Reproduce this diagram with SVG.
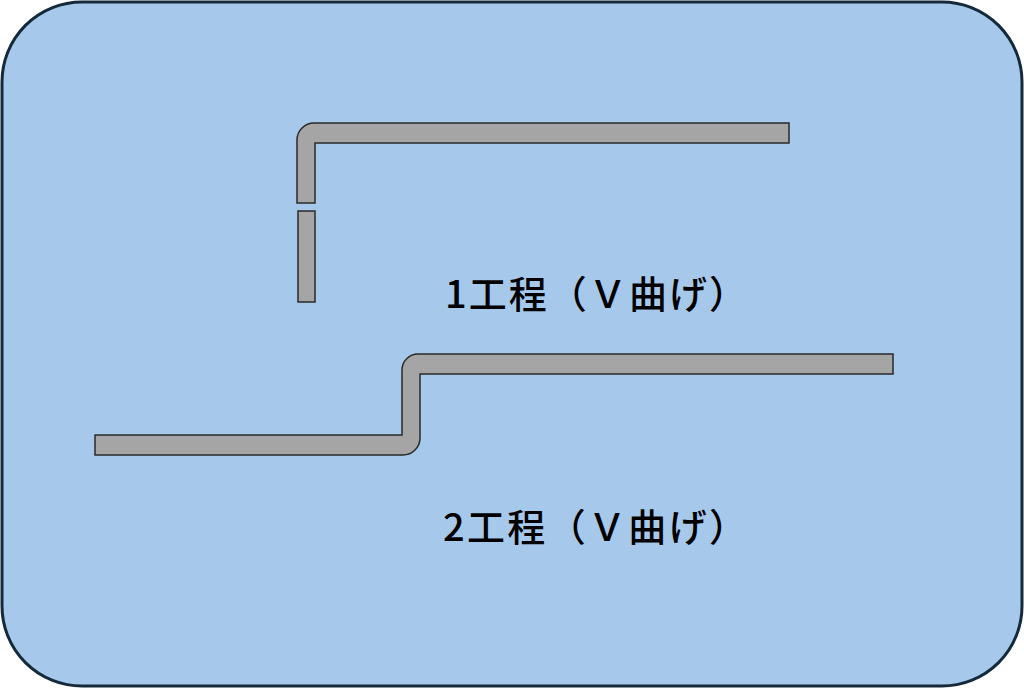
<svg xmlns="http://www.w3.org/2000/svg" width="1024" height="688" viewBox="0 0 1024 688">
<style>
.part{fill:#a5a5a5;stroke:#2a2a2a;stroke-width:1.5}
.lbl{font-family:"Noto Sans CJK JP",sans-serif;font-size:38px;font-weight:500;fill:#000}
</style>
<g id="background"><rect x="2" y="2" width="1020" height="684" rx="80" fill="#a6c9eb" stroke="#15293a" stroke-width="3"/></g>
<g id="step1">
<path class="part" d="M315,203 L297,203 L297,140 A17,17 0 0 1 314,123 L789,123 L789,143 L315,143 Z"/>
<rect class="part" x="298" y="211" width="17" height="91"/>
<text class="lbl" x="445" y="308" textLength="302" lengthAdjust="spacing">1工程（Ｖ曲げ）</text>
</g>
<g id="step2">
<path class="part" d="M95,435 L402,435 L402,370 A16,16 0 0 1 418,354 L893,354 L893,374 L420,374 L420,438 A17,17 0 0 1 403,455 L95,455 Z"/>
<text class="lbl" x="443" y="541" textLength="304" lengthAdjust="spacing">2工程（Ｖ曲げ）</text>
</g>
<g id="connectors"/>
</svg>
